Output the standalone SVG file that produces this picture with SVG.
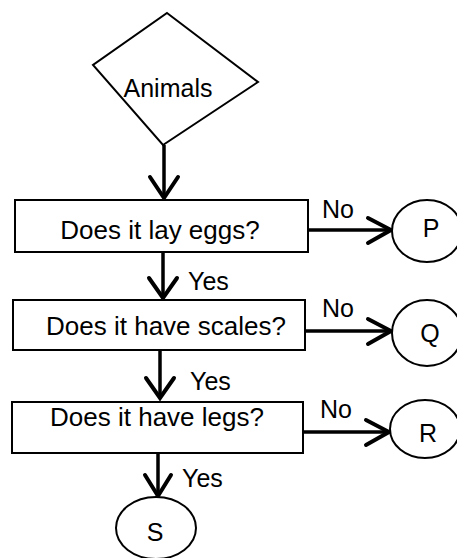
<svg xmlns="http://www.w3.org/2000/svg" width="457" height="558" viewBox="0 0 457 558">
<defs>
<style>
.shape{fill:#fff;stroke:#000;stroke-width:2}
.ln{fill:none;stroke:#000;stroke-width:3.5}
.head{fill:none;stroke:#000;stroke-width:4;stroke-linejoin:miter;stroke-linecap:round}
text{font-family:"Liberation Sans",Arial,sans-serif;font-size:25px;fill:#000}
.c{text-anchor:middle}
.box{font-size:26px}
</style>
</defs>
<rect width="457" height="558" fill="#fff"/>
<g id="connectors">
<line class="ln" x1="164" y1="145" x2="164" y2="198"/>
<polyline class="head" points="150,177 164,198 178,177"/>
<line class="ln" x1="163" y1="252" x2="163" y2="298"/>
<polyline class="head" points="149,278 163,298 177,278"/>
<line class="ln" x1="160" y1="350" x2="160" y2="398"/>
<polyline class="head" points="146,378 160,398 174,378"/>
<line class="ln" x1="158" y1="453" x2="158" y2="496"/>
<polyline class="head" points="145,475 158,496 171,475"/>
<line class="ln" x1="308" y1="230" x2="391" y2="230"/>
<polyline class="head" points="368,218 391,230 368,243"/>
<line class="ln" x1="305" y1="331" x2="391" y2="331"/>
<polyline class="head" points="368,319 391,331 368,344"/>
<line class="ln" x1="303" y1="432" x2="389" y2="432"/>
<polyline class="head" points="366,420 389,432 366,445"/>
<text x="188" y="290">Yes</text>
<text x="190" y="390">Yes</text>
<text x="182" y="487">Yes</text>
<text x="322" y="218">No</text>
<text x="322" y="317">No</text>
<text x="320" y="418">No</text>
</g>
<g id="animals">
<polygon class="shape" points="167,13 258,82 163,145 93,65"/>
<text class="c" x="168" y="97">Animals</text>
</g>
<g id="q1">
<rect class="shape" x="15" y="200" width="293" height="52"/>
<text class="c box" x="160" y="239">Does it lay eggs?</text>
</g>
<g id="q2">
<rect class="shape" x="13" y="300" width="292" height="50"/>
<text class="c box" x="166" y="335">Does it have scales?</text>
</g>
<g id="q3">
<rect class="shape" x="12" y="402" width="291" height="51"/>
<text class="c box" x="157" y="426">Does it have legs?</text>
</g>
<g id="P">
<ellipse class="shape" cx="427" cy="231" rx="35" ry="31"/>
<text class="c" x="431" y="237">P</text>
</g>
<g id="Q">
<ellipse class="shape" cx="427" cy="333" rx="35" ry="33"/>
<text class="c" x="430" y="342">Q</text>
</g>
<g id="R">
<ellipse class="shape" cx="425" cy="429" rx="35" ry="29"/>
<text class="c" x="428" y="442">R</text>
</g>
<g id="S">
<ellipse class="shape" cx="156" cy="528" rx="40" ry="31"/>
<text class="c" x="155" y="541">S</text>
</g>
</svg>
